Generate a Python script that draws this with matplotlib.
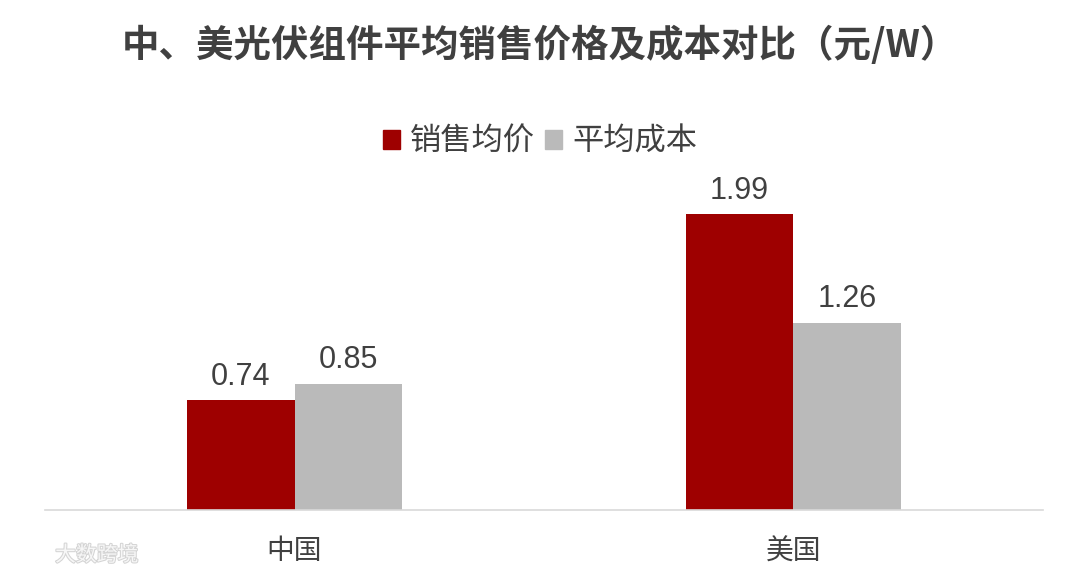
import matplotlib

matplotlib.use("Agg")
import matplotlib.pyplot as plt
import matplotlib.patheffects as pe
import numpy as np
from matplotlib.patches import Patch

plt.rcParams["font.family"] = ["Liberation Sans", "Noto Sans CJK SC", "DejaVu Sans"]

TITLE = "中、美光伏组件平均销售价格及成本对比（元/W）"
categories = ["中国", "美国"]
series_names = ["销售均价", "平均成本"]
sale_price = [0.74, 1.99]
avg_cost = [0.85, 1.26]

RED = "#9e0000"
GRAY = "#bababa"
TEXT = "#404040"

fig = plt.figure(figsize=(10.8, 5.77), dpi=100)
ax = fig.add_axes([0.0417, 0.1161, 0.924, 0.5893])

x = np.arange(len(categories))
w = 0.2164
b1 = ax.bar(x - w / 2, sale_price, w, color=RED, label=series_names[0])
b2 = ax.bar(x + w / 2, avg_cost, w, color=GRAY, label=series_names[1])

for bars, vals in ((b1, sale_price), (b2, avg_cost)):
    for r, v in zip(bars, vals):
        ax.annotate(f"{v:.2f}", (r.get_x() + r.get_width() / 2, v),
                    xytext=(0, 6), textcoords="offset points",
                    ha="center", va="bottom", fontsize=22, color=TEXT)

ax.set_xlim(-0.5, 1.5)
ax.set_ylim(0, 2.2865)
ax.set_xticks(x)
ax.set_xticklabels(categories, fontsize=20, color=TEXT,
                   family=["Noto Sans CJK SC", "DejaVu Sans"])
ax.tick_params(axis="x", length=0, pad=19)
ax.set_yticks([])
for s in ("top", "right", "left"):
    ax.spines[s].set_visible(False)
ax.spines["bottom"].set_color("#d9d9d9")
ax.spines["bottom"].set_linewidth(1.2)

fig.text(0.5, 0.922, TITLE, ha="center", va="center", fontsize=27,
         fontweight="bold", color=TEXT, family=["Noto Sans CJK SC", "DejaVu Sans"])

handles = [Patch(color=RED, label=series_names[0]),
           Patch(color=GRAY, label=series_names[1])]
fig.legend(handles=handles, loc="center", bbox_to_anchor=(0.5, 0.754), ncol=2,
           frameon=False, handlelength=0.55, handleheight=0.55, handletextpad=0.32,
           columnspacing=0.32,
           prop={"family": ["Noto Sans CJK SC"], "size": 22.5}, labelcolor=TEXT)

# watermark
fig.text(0.051, 0.038, "大数跨境", ha="left", va="center", fontsize=15,
         color="#f7f7f7", family=["Noto Sans CJK SC"],
         path_effects=[pe.withStroke(linewidth=1.5, foreground="#d4d4d4")])

fig.savefig("out.png", dpi=100)
